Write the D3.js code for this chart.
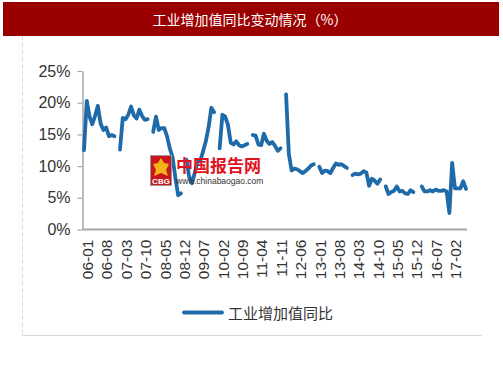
<!DOCTYPE html>
<html>
<head>
<meta charset="utf-8">
<script src="https://cdn.jsdelivr.net/npm/d3@7"></script>
<style>
  body { margin: 0; background: #fff; }
  #chart { width: 503px; height: 378px; }
</style>
</head>
<body>
<div id="chart"></div>
<script>
// 工业增加值同比 (%), 月度 2006-01 ~ 2017-07, 缺失月份为 null
const years = [2006, 2007, 2008, 2009, 2010, 2011, 2012, 2013, 2014, 2015, 2016, 2017];
const lastMonth2017 = 7;

const yoyValues = [
  // 2006
  12.5, 20.3, 17.8, 16.6, 17.9, 19.5, 16.7, 15.7, 16.1, 14.7, 14.9, 14.7,
  // 2007
  null, 12.6, 17.6, 17.4, 18.1, 19.4, 18.0, 17.5, 18.9, 17.9, 17.3, 17.4,
  // 2008
  null, 15.4, 17.8, 15.7, 16.0, 16.0, 14.7, 12.8, 11.4, 8.2, 5.4, 5.7,
  // 2009
  null, 11.0, 8.3, 7.3, 8.9, 10.7, 10.8, 12.3, 13.9, 16.1, 19.2, 18.5,
  // 2010
  null, 12.8, 18.1, 17.8, 16.5, 13.7, 13.4, 13.9, 13.3, 13.1, 13.3, 13.5,
  // 2011
  null, 14.9, 14.8, 13.4, 13.3, 15.1, 14.0, 13.5, 13.8, 13.2, 12.4, 12.8,
  // 2012
  null, 21.3, 11.9, 9.3, 9.6, 9.5, 9.2, 8.9, 9.2, 9.6, 10.1, 10.3,
  // 2013
  null, 9.9, 8.9, 9.3, 9.2, 8.9, 9.7, 10.4, 10.2, 10.3, 10.0, 9.7,
  // 2014
  null, 8.6, 8.8, 8.7, 8.8, 9.2, 9.0, 6.9, 8.0, 7.7, 7.2, 7.9,
  // 2015
  null, 6.8, 5.6, 5.9, 6.1, 6.8, 6.0, 6.1, 5.7, 5.6, 6.2, 5.9,
  // 2016
  null, null, 6.8, 6.0, 6.0, 6.2, 6.0, 6.3, 6.1, 6.1, 6.2, 6.0,
  // 2017
  2.6, 10.5, 6.5, 6.5, 6.5, 7.6, 6.4
];

const xTickLabels = ["06-01", "06-08", "07-03", "07-10", "08-05", "08-12", "09-07", "10-02",
  "10-09", "11-04", "11-11", "12-06", "13-01", "13-08", "14-03", "14-10", "15-05", "15-12",
  "16-07", "17-02"];
const yTicks = [0, 5, 10, 15, 20, 25];

const seriesName = "工业增加值同比";
const chartTitle = "工业增加值同比变动情况（%）";

// 月份类别 yy-mm
let categories = [];
years.forEach(y => {
  const maxM = y === 2017 ? lastMonth2017 : 12;
  for (let m = 1; m <= maxM; m++) {
    categories.push(String(y % 100).padStart(2, "0") + "-" + String(m).padStart(2, "0"));
  }
});

let data = categories.map((c, i) => ({ cat: c, value: yoyValues[i] }));

const W = 503, H = 378;
const cjk = "'Noto Sans CJK SC', 'Noto Sans', sans-serif";
const latin = "'Liberation Sans', Arial, sans-serif";

const svg = d3.select("#chart").append("svg")
  .attr("width", W)
  .attr("height", H);

svg.append("rect").attr("width", W).attr("height", H).attr("fill", "#fff");

// 标题栏
svg.append("rect")
  .attr("x", 3).attr("y", 2)
  .attr("width", 496).attr("height", 34)
  .attr("fill", "#9b0000");
svg.append("text")
  .attr("x", 250).attr("y", 19)
  .attr("text-anchor", "middle")
  .attr("dominant-baseline", "central")
  .attr("fill", "#fff")
  .style("font-family", cjk)
  .style("font-size", "14px")
  .text(chartTitle);

// 图表外框 (左虚线 + 底线)
svg.append("line")
  .attr("x1", 22.5).attr("x2", 22.5).attr("y1", 36).attr("y2", 335)
  .attr("stroke", "#d9d9d9").attr("stroke-dasharray", "4,3");
svg.append("line")
  .attr("x1", 22).attr("x2", 482).attr("y1", 335.5).attr("y2", 335.5)
  .attr("stroke", "#d9d9d9");

// 比例尺
const x = d3.scalePoint().domain(categories).range([84, 466]);
const y = d3.scaleLinear().domain([0, 25]).range([229.5, 71]);

// Y轴
const yAxis = svg.append("g")
  .attr("transform", "translate(82.5,0)")
  .call(d3.axisLeft(y).tickValues(yTicks).tickFormat(d => d + "%").tickSize(5).tickSizeOuter(0).tickPadding(7));
yAxis.select(".domain").attr("stroke", "#a6a6a6").attr("stroke-width", 1.5);
yAxis.selectAll(".tick line").attr("stroke", "#a6a6a6").attr("stroke-width", 1.2);
yAxis.selectAll("text")
  .attr("fill", "#333")
  .style("font-family", latin)
  .style("font-size", "16px");

// X轴
const xAxis = svg.append("g")
  .attr("transform", "translate(0,229.5)")
  .call(d3.axisBottom(x).tickValues(xTickLabels).tickSize(0).tickSizeOuter(0));
xAxis.select(".domain")
  .attr("d", "M82.5,0H467")
  .attr("stroke", "#a6a6a6").attr("stroke-width", 1.8);
xAxis.selectAll("text")
  .attr("fill", "#333")
  .style("font-family", latin)
  .style("font-size", "15.5px")
  .style("text-anchor", "end")
  .attr("x", 0)
  .attr("y", 0)
  .attr("dx", "-10px")
  .attr("dy", "0.55em")
  .attr("transform", "rotate(-90)");

// 折线
const line = d3.line()
  .defined(d => d.value != null)
  .x(d => x(d.cat))
  .y(d => y(d.value));

svg.append("path")
  .datum(data)
  .attr("fill", "none")
  .attr("stroke", "#1f6aa8")
  .attr("stroke-width", 3.8)
  .attr("stroke-linejoin", "round")
  .attr("stroke-linecap", "round")
  .attr("d", line);

// 水印 logo
const logo = svg.append("g");
logo.append("rect")
  .attr("x", 150.5).attr("y", 155.5).attr("width", 21).attr("height", 30)
  .attr("fill", "#c9161d").attr("stroke", "#9a9a9a");
logo.append("path")
  .attr("d", "M161,158 L164,163 L169,164 L166,170 L168,176 L161,173 L154,176 L156,170 L153,164 L158,163 Z")
  .attr("fill", "#f6b21a");
logo.append("text")
  .attr("x", 161).attr("y", 184)
  .attr("text-anchor", "middle")
  .attr("fill", "#fff")
  .style("font-family", latin)
  .style("font-size", "8px")
  .style("font-weight", "bold")
  .text("CBG");
logo.append("text")
  .attr("x", 176).attr("y", 172)
  .attr("fill", "#e0141e")
  .style("font-family", cjk)
  .style("font-size", "17px")
  .style("font-weight", "bold")
  .text("中国报告网");
logo.append("text")
  .attr("x", 176).attr("y", 184)
  .attr("fill", "#333")
  .style("font-family", latin)
  .style("font-size", "8.5px")
  .text("www.chinabaogao.com");

// 图例
const legend = svg.append("g").attr("transform", "translate(184,312.5)");
legend.append("line")
  .attr("x1", 0).attr("x2", 38)
  .attr("stroke", "#1f6aa8").attr("stroke-width", 3.8)
  .attr("stroke-linecap", "round");
legend.append("text")
  .attr("x", 44).attr("y", 0)
  .attr("dominant-baseline", "central")
  .attr("fill", "#333")
  .style("font-family", cjk)
  .style("font-size", "15px")
  .text(seriesName);
</script>
</body>
</html>
